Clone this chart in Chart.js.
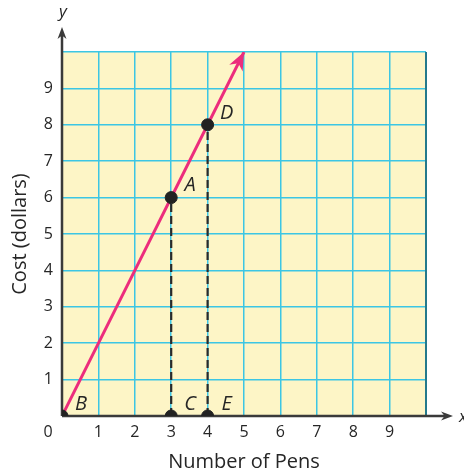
<!DOCTYPE html>
<html>
<head>
<meta charset="utf-8">
<script src="https://cdn.jsdelivr.net/npm/chart.js@4"></script>
<style>
  html, body { margin: 0; padding: 0; background: #fff; }
  canvas { display: block; }
</style>
</head>
<body>
<canvas id="grafico" width="464" height="475"></canvas>
<script>
// cost line y = 2x, drawn from the origin up to the arrow tip
const linhaX = [0, 5];
const linhaY = [0, 10];

// labelled points
const pontoNomes = ['B', 'A', 'D', 'C', 'E'];
const pontoX = [0, 3, 4, 3, 4];
const pontoY = [0, 6, 8, 0, 0];

// dashed drops from A and D down to the x axis
const quedaX = [3, 4];
const quedaY = [6, 8];

const ticksVisiveis = [1, 2, 3, 4, 5, 6, 7, 8, 9];

const corGrade = '#3cc6e4';
const corEixo = '#3a3a3a';
const corTexto = '#262626';
const fonte = '"Open Sans", "Noto Sans", sans-serif';

const fundoPlugin = {
    id: 'fundo',
    beforeDraw(chart) {
        const { ctx, chartArea: a } = chart;
        ctx.save();
        ctx.fillStyle = '#fff';
        ctx.fillRect(0, 0, chart.width, chart.height);
        ctx.fillStyle = '#fdf5c6';
        ctx.fillRect(a.left, a.top, a.right - a.left, a.bottom - a.top);
        ctx.restore();
    }
};

function seta(ctx, x, y, ang, comp, larg) {
    ctx.save();
    ctx.translate(x, y);
    ctx.rotate(ang);
    ctx.beginPath();
    ctx.moveTo(0, 0);
    ctx.lineTo(-comp, -larg / 2);
    ctx.lineTo(-comp * 0.7, 0);
    ctx.lineTo(-comp, larg / 2);
    ctx.closePath();
    ctx.fill();
    ctx.restore();
}

const eixosPlugin = {
    id: 'eixos',
    beforeDatasetsDraw(chart) {
        const { ctx, chartArea: a } = chart;
        ctx.save();
        // right border
        ctx.strokeStyle = '#24798c';
        ctx.lineWidth = 2;
        ctx.beginPath();
        ctx.moveTo(a.right, a.top);
        ctx.lineTo(a.right, a.bottom);
        ctx.stroke();

        ctx.strokeStyle = corEixo;
        ctx.fillStyle = corEixo;
        ctx.lineWidth = 2.5;
        ctx.beginPath();
        ctx.moveTo(a.left, a.bottom);
        ctx.lineTo(a.left, 34);
        ctx.moveTo(a.left, a.bottom);
        ctx.lineTo(446, a.bottom);
        ctx.stroke();
        seta(ctx, a.left, 27, -Math.PI / 2, 12, 9);
        seta(ctx, 453, a.bottom, 0, 12, 9);
        ctx.restore();
    },
    afterDatasetsDraw(chart) {
        const { ctx, scales: { x, y } } = chart;
        ctx.save();
        // arrow head at the end of the cost line
        const n = linhaX.length - 1;
        const x0 = x.getPixelForValue(linhaX[n - 1]), y0 = y.getPixelForValue(linhaY[n - 1]);
        const x1 = x.getPixelForValue(linhaX[n]), y1 = y.getPixelForValue(linhaY[n]);
        ctx.fillStyle = '#ec2c7c';
        seta(ctx, x1, y1, Math.atan2(y1 - y0, x1 - x0), 18, 15);

        ctx.fillStyle = corTexto;
        ctx.textAlign = 'center';
        ctx.textBaseline = 'middle';
        ctx.font = 'italic 20px ' + fonte;
        pontoNomes.forEach((nome, i) => {
            ctx.fillText(nome, x.getPixelForValue(pontoX[i]) + 19, y.getPixelForValue(pontoY[i]) - 12);
        });

        ctx.font = '16px ' + fonte;
        ctx.fillText('0', 48, 432);

        ctx.font = 'italic 17px ' + fonte;
        ctx.fillText('y', x.getPixelForValue(0) + 1, 12);
        ctx.fillText('x', 463, y.getPixelForValue(0) + 1);
        ctx.restore();
    }
};

const pontos = pontoX.map((v, i) => ({ x: v, y: pontoY[i] }));
const linha = linhaX.map((v, i) => ({ x: v, y: linhaY[i] }));
const quedas = quedaX.map((v, i) => ({
    data: [{ x: v, y: 0 }, { x: v, y: quedaY[i] }],
    showLine: true,
    borderColor: '#2a2a2a',
    borderWidth: 2.2,
    borderDash: [8, 4],
    pointRadius: 0
}));

new Chart(document.getElementById('grafico'), {
    type: 'scatter',
    data: {
        datasets: [
            {
                data: pontos,
                backgroundColor: '#222',
                borderColor: '#222',
                pointRadius: 6,
                showLine: false
            },
            {
                data: linha,
                showLine: true,
                borderColor: '#ec2c7c',
                borderWidth: 3,
                pointRadius: 0
            },
            ...quedas
        ]
    },
    options: {
        responsive: false,
        animation: false,
        layout: { padding: { top: 52, right: 38, left: 0, bottom: 0 } },
        plugins: { legend: { display: false }, tooltip: { enabled: false } },
        scales: {
            x: {
                type: 'linear',
                min: 0,
                max: 10,
                afterFit(scale) { scale.height = 59; },
                border: { display: false },
                grid: { color: corGrade, lineWidth: 1.5, drawTicks: false },
                ticks: {
                    stepSize: 1,
                    padding: 7,
                    color: corTexto,
                    font: { family: fonte, size: 16 },
                    callback: v => ticksVisiveis.includes(v) ? String(v) : ''
                },
                title: {
                    display: true,
                    text: 'Number of Pens',
                    color: corTexto,
                    font: { family: fonte, size: 20 },
                    padding: { top: 0, bottom: 1 }
                }
            },
            y: {
                type: 'linear',
                min: 0,
                max: 10,
                afterFit(scale) { scale.width = 62; },
                border: { display: false },
                grid: { color: corGrade, lineWidth: 1.5, drawTicks: false },
                ticks: {
                    stepSize: 1,
                    padding: 9,
                    color: corTexto,
                    font: { family: fonte, size: 16 },
                    callback: v => ticksVisiveis.includes(v) ? String(v) : ''
                },
                title: {
                    display: true,
                    text: 'Cost (dollars)',
                    color: corTexto,
                    font: { family: fonte, size: 20 },
                    padding: { top: 8, bottom: 0 }
                }
            }
        }
    },
    plugins: [fundoPlugin, eixosPlugin]
});
</script>
</body>
</html>
